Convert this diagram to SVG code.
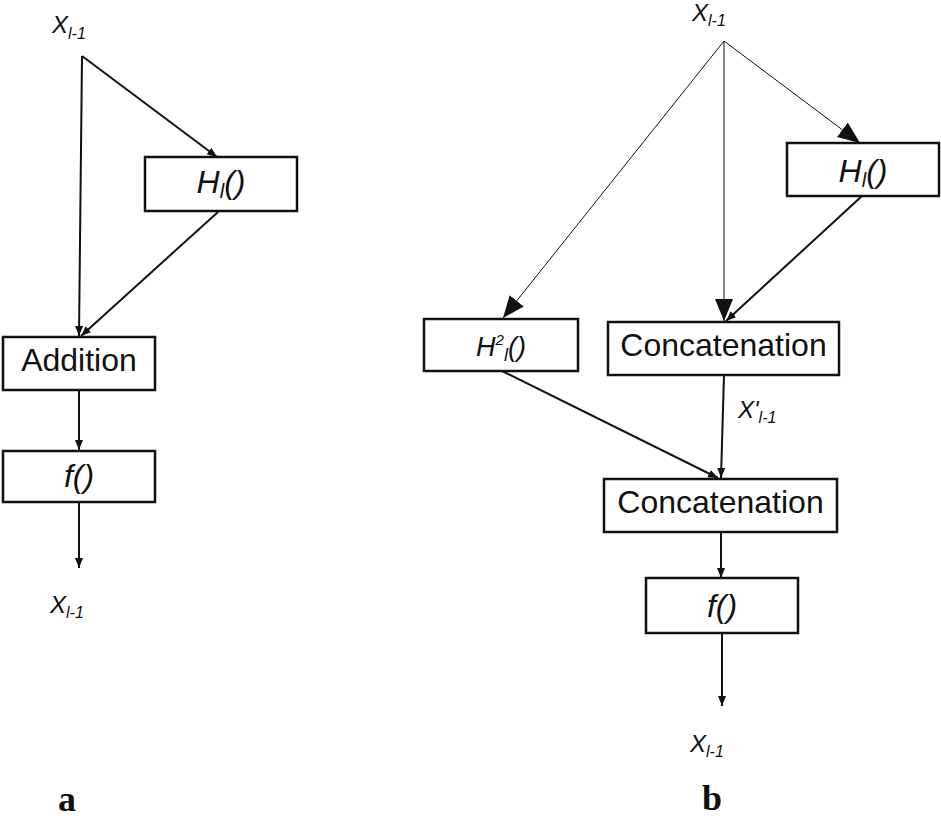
<svg xmlns="http://www.w3.org/2000/svg" width="941" height="820" viewBox="0 0 941 820">
<style>
.box{fill:#fff;stroke:#111;stroke-width:2.5}
.ln{fill:none;stroke:#111;stroke-width:2}
.thin{fill:none;stroke:#111;stroke-width:1}
.t{font-family:"Liberation Sans",Arial,sans-serif;fill:#111}
.i{font-family:"Liberation Sans",Arial,sans-serif;font-style:italic;fill:#111}
.lbl{font-family:"Liberation Serif","Times New Roman",serif;font-weight:bold;fill:#111}
</style>
<defs>
<marker id="sm" markerUnits="userSpaceOnUse" markerWidth="11" markerHeight="9" refX="10" refY="4" orient="auto"><path d="M0,0 L10,4 L0,8 z" fill="#111"/></marker>
<marker id="bg" markerUnits="userSpaceOnUse" markerWidth="23" markerHeight="19" refX="22" refY="9" orient="auto"><path d="M0,0 L22,9 L0,18 z" fill="#111"/></marker>
</defs>
<g id="connectors">
<line class="ln" x1="82" y1="56" x2="79" y2="336" marker-end="url(#sm)"/>
<line class="ln" x1="82" y1="56" x2="217" y2="157" marker-end="url(#sm)"/>
<line class="ln" x1="218" y1="212" x2="81" y2="336" marker-end="url(#sm)"/>
<line class="ln" x1="79" y1="390" x2="79" y2="450" marker-end="url(#sm)"/>
<line class="ln" x1="79" y1="502" x2="79" y2="568" marker-end="url(#sm)"/>
<line class="thin" x1="724" y1="41" x2="503" y2="318" marker-end="url(#bg)"/>
<line class="thin" x1="724" y1="41" x2="724" y2="321" marker-end="url(#bg)"/>
<line class="thin" x1="724" y1="41" x2="860" y2="143" marker-end="url(#bg)"/>
<line class="ln" x1="862" y1="196" x2="726" y2="321" marker-end="url(#sm)"/>
<line class="ln" x1="724" y1="375" x2="721" y2="478" marker-end="url(#sm)"/>
<line class="ln" x1="502" y1="371" x2="718" y2="478" marker-end="url(#sm)"/>
<line class="ln" x1="721" y1="532" x2="721" y2="578" marker-end="url(#sm)"/>
<line class="ln" x1="722" y1="633" x2="722" y2="706" marker-end="url(#sm)"/>
</g>
<g id="x-in-a"><text class="i" x="52" y="33" font-size="24">X<tspan font-size="16" dy="6">l-1</tspan></text></g>
<g id="h-a"><rect class="box" x="145" y="157" width="152" height="54"/><text class="i" x="221" y="193" font-size="32" text-anchor="middle">H<tspan font-size="20" dy="5">l</tspan><tspan dy="-5">()</tspan></text></g>
<g id="addition"><rect class="box" x="3" y="337" width="152" height="53"/><text class="t" x="79" y="371" font-size="32" text-anchor="middle">Addition</text></g>
<g id="f-a"><rect class="box" x="3" y="451" width="152" height="51"/><text class="i" x="79" y="487" font-size="32" text-anchor="middle">f()</text></g>
<g id="x-out-a"><text class="i" x="50" y="613" font-size="24">X<tspan font-size="16" dy="5">l-1</tspan></text></g>
<g id="x-in-b"><text class="i" x="692" y="21" font-size="24">X<tspan font-size="16" dy="5">l-1</tspan></text></g>
<g id="h-b"><rect class="box" x="787" y="143" width="152" height="53"/><text class="i" x="863" y="182" font-size="32" text-anchor="middle">H<tspan font-size="20" dy="5">l</tspan><tspan dy="-5">()</tspan></text></g>
<g id="h2-b"><rect class="box" x="424" y="319" width="154" height="52"/><text class="i" x="501" y="356" font-size="27" text-anchor="middle">H<tspan font-size="15" dy="-11">2</tspan><tspan font-size="18" dy="16">l</tspan><tspan dy="-5">()</tspan></text></g>
<g id="concat1"><rect class="box" x="608" y="322" width="231" height="53"/><text class="t" x="723.5" y="356" font-size="32" text-anchor="middle">Concatenation</text></g>
<g id="xprime"><text class="i" x="738" y="418" font-size="24">X'<tspan font-size="16" dy="5">l-1</tspan></text></g>
<g id="concat2"><rect class="box" x="604" y="479" width="233" height="53"/><text class="t" x="720.5" y="513" font-size="32" text-anchor="middle">Concatenation</text></g>
<g id="f-b"><rect class="box" x="646" y="578" width="152" height="55"/><text class="i" x="722" y="617" font-size="32" text-anchor="middle">f()</text></g>
<g id="x-out-b"><text class="i" x="690" y="752" font-size="24">X<tspan font-size="16" dy="5">l-1</tspan></text></g>
<text class="lbl" x="67" y="811" font-size="36" text-anchor="middle">a</text>
<text class="lbl" x="712" y="810" font-size="36" text-anchor="middle">b</text>
</svg>
